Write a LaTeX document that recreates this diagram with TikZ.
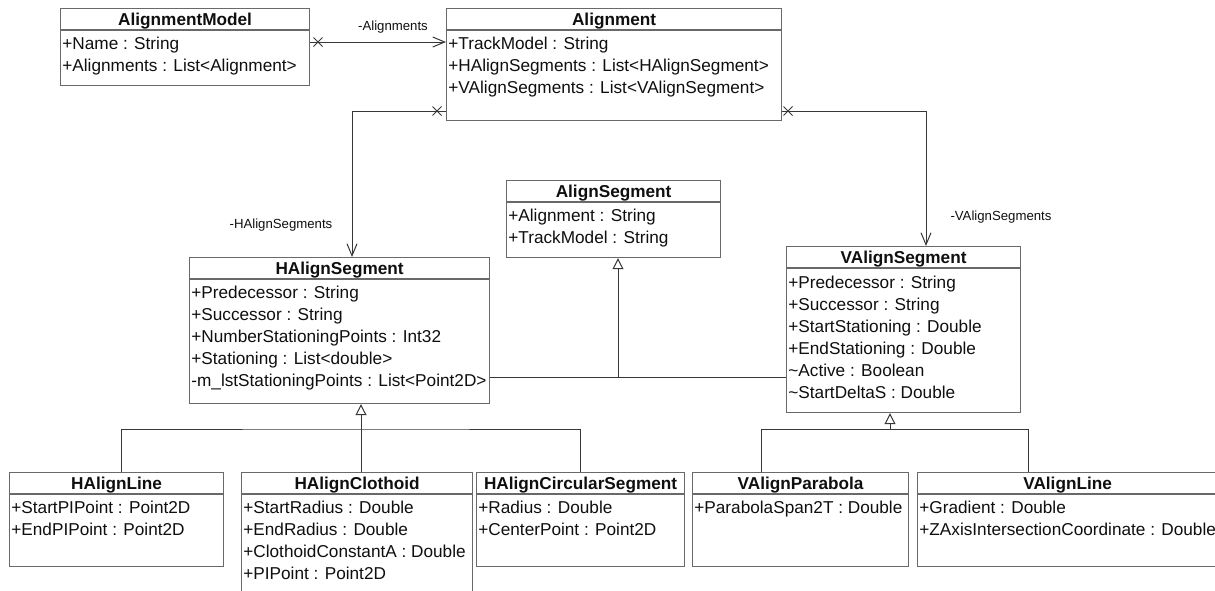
\documentclass[tikz,border=0pt]{standalone}
\usepackage{fontspec}
\setmainfont{Liberation Sans}
\usepackage{tikz}
\usetikzlibrary{arrows.meta, positioning, shapes.misc, calc}
\definecolor{umlframe}{RGB}{105,105,105}
\definecolor{umlline}{RGB}{55,55,55}
\definecolor{umltext}{RGB}{15,15,15}

\begin{document}
\begin{tikzpicture}[x=0.5pt, y=-0.5pt,
  classbox/.style={draw=umlframe, line width=0.6pt, fill=white, anchor=north west,
                   inner sep=0pt},
  ctitle/.style={font=\fontsize{8.6}{10}\selectfont\bfseries, text=umltext,
                 anchor=base, inner sep=0pt},
  cattrs/.style={font=\fontsize{8.6}{11}\selectfont, text=umltext,
                 anchor=north west, align=left, inner sep=0pt},
  rowline/.style={draw=umlframe, line width=0.6pt},
  rolelabel/.style={font=\fontsize{6.6}{8}\selectfont, text=umltext, inner sep=0pt},
  nomark/.style={cross out, draw=umlline, line width=0.5pt, minimum size=4pt,
                 inner sep=0pt},
  assoc/.style={draw=umlline, line width=0.5pt, -{Straight Barb[length=6pt, width=5pt]}},
  inherit/.style={draw=umlline, line width=0.5pt,
                  -{Triangle[open, length=5.5pt, width=5.5pt]}},
  link/.style={draw=umlline, line width=0.5pt}
]
  \useasboundingbox (0,0) rectangle (1215,590);
  \clip (0,0) rectangle (1215,590);

  %% Class boxes
  \node[classbox, minimum width=124.5pt, minimum height=38.5pt] (model) at (60,8)   {};
  \node[classbox, minimum width=167.5pt, minimum height=56pt]   (align) at (446,8)  {};
  \node[classbox, minimum width=107pt,   minimum height=38.5pt] (seg)   at (506,180) {};
  \node[classbox, minimum width=150pt,   minimum height=73pt]   (hseg)  at (189,257) {};
  \node[classbox, minimum width=117pt,   minimum height=83pt]   (vseg)  at (786,246) {};
  \node[classbox, minimum width=107pt,   minimum height=47pt]   (hline) at (9,472)   {};
  \node[classbox, minimum width=115.5pt, minimum height=65pt]   (hclo)  at (241,472) {};
  \node[classbox, minimum width=104pt,   minimum height=47pt]   (hcirc) at (476,472) {};
  \node[classbox, minimum width=108pt,   minimum height=47pt]   (vpar)  at (692,472) {};
  \node[classbox, minimum width=150pt,   minimum height=47pt]   (vline) at (917,472) {};

  %% Header rules
  \foreach \c in {model,align,seg,hseg,vseg,hline,hclo,hcirc,vpar,vline}
    \draw[rowline] ([yshift=-11pt]\c.north west) -- ([yshift=-11pt]\c.north east);

  %% Class names
  \node[ctitle] (modelT) at ([yshift=-8.5pt]model.north) {AlignmentModel};
  \node[ctitle] (alignT) at ([yshift=-8.5pt]align.north) {Alignment};
  \node[ctitle] (segT)   at ([yshift=-8.5pt]seg.north)   {AlignSegment};
  \node[ctitle] (hsegT)  at ([yshift=-8.5pt]hseg.north)  {HAlignSegment};
  \node[ctitle] (vsegT)  at ([yshift=-8.5pt]vseg.north)  {VAlignSegment};
  \node[ctitle] (hlineT) at ([yshift=-8.5pt]hline.north) {HAlignLine};
  \node[ctitle] (hcloT)  at ([yshift=-8.5pt]hclo.north)  {HAlignClothoid};
  \node[ctitle] (hcircT) at ([yshift=-8.5pt]hcirc.north) {HAlignCircularSegment};
  \node[ctitle] (vparT)  at ([yshift=-8.5pt]vpar.north)  {VAlignParabola};
  \node[ctitle] (vlineT) at ([yshift=-8.5pt]vline.north) {VAlignLine};

  %% Attributes
  \node[cattrs] (modelA) at ([xshift=1pt, yshift=-14.5pt]model.north west)
    {+Name : String\\+Alignments : List<Alignment>};
  \node[cattrs] (alignA) at ([xshift=1pt, yshift=-14.5pt]align.north west)
    {+TrackModel : String\\+HAlignSegments : List<HAlignSegment>\\
     +VAlignSegments : List<VAlignSegment>};
  \node[cattrs] (segA) at ([xshift=1pt, yshift=-14.5pt]seg.north west)
    {+Alignment : String\\+TrackModel : String};
  \node[cattrs] (hsegA) at ([xshift=1pt, yshift=-14.5pt]hseg.north west)
    {+Predecessor : String\\+Successor : String\\
     +NumberStationingPoints : Int32\\+Stationing : List<double>\\
     -m\_lstStationingPoints : List<Point2D>};
  \node[cattrs] (vsegA) at ([xshift=1pt, yshift=-15pt]vseg.north west)
    {+Predecessor : String\\+Successor : String\\+StartStationing : Double\\
     +EndStationing : Double\\\textasciitilde Active : Boolean\\
     \textasciitilde StartDeltaS : Double};
  \node[cattrs] (hlineA) at ([xshift=1pt, yshift=-14.5pt]hline.north west)
    {+StartPIPoint : Point2D\\+EndPIPoint : Point2D};
  \node[cattrs] (hcloA) at ([xshift=1pt, yshift=-14.5pt]hclo.north west)
    {+StartRadius : Double\\+EndRadius : Double\\
     +ClothoidConstantA : Double\\+PIPoint : Point2D};
  \node[cattrs] (hcircA) at ([xshift=1pt, yshift=-14.5pt]hcirc.north west)
    {+Radius : Double\\+CenterPoint : Point2D};
  \node[cattrs] (vparA) at ([xshift=1pt, yshift=-14.5pt]vpar.north west)
    {+ParabolaSpan2T : Double};
  \node[cattrs] (vlineA) at ([xshift=1pt, yshift=-14.5pt]vline.north west)
    {+Gradient : Double\\+ZAxisIntersectionCoordinate : Double};

  %% Associations
  \node[nomark] (xmodel) at (318,42) {};
  \draw[assoc] (xmodel -| model.east) -- (xmodel -| align.west);
  \node[rolelabel] (lblAlign) at (393,27) {-Alignments};

  \node[nomark] (xhseg) at (437,111) {};
  \coordinate (hbend) at (352,111);
  \draw[assoc] (xhseg -| align.west) -- (hbend) -- (hbend |- hseg.north);
  \node[rolelabel] (lblH) at (281,225) {-HAlignSegments};

  \node[nomark] (xvseg) at (788,111) {};
  \coordinate (vbend) at (926,111);
  \draw[assoc] (xvseg -| align.east) -- (vbend) -- (vbend |- vseg.north);
  \node[rolelabel] (lblV) at (1001,217) {-VAlignSegments};

  %% Generalizations
  \coordinate (sbus) at (618,377);
  \draw[link] (sbus -| hseg.east) -- (sbus -| vseg.west);
  \draw[inherit] (sbus) -- (sbus |- seg.south);

  \coordinate (hbus) at (361,429);
  \draw[inherit] (hbus |- hclo.north) -- (hbus |- hseg.south);
  \draw[link] ([xshift=2.5pt]hline.north) |- (hbus) -| (hcirc.north);

  \coordinate (vbus)  at (890,429);
  \coordinate (vbusL) at (761,429);
  \coordinate (vbusR) at (1028,429);
  \draw[inherit] (vbus) -- (vbus |- vseg.south);
  \draw[link] (vbusL |- vpar.north) -- (vbusL) -- (vbusR) -- (vbusR |- vline.north);
\end{tikzpicture}
\end{document}
